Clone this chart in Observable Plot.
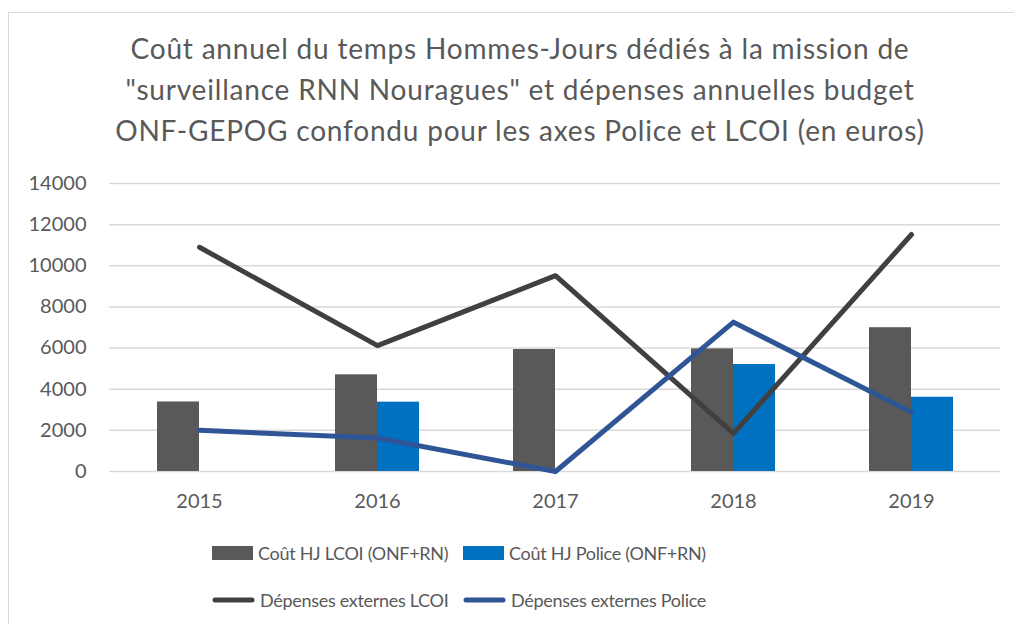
<!DOCTYPE html>
<html>
<head>
<meta charset="utf-8">
<script src="https://cdn.jsdelivr.net/npm/d3@7"></script>
<script src="https://cdn.jsdelivr.net/npm/@observablehq/plot@0.6"></script>
<style>
  html, body { margin: 0; padding: 0; background: #fff; }
  body { width: 1014px; height: 624px; position: relative; overflow: hidden; font-family: Lato, "Open Sans", sans-serif; color: #595959; }
  #frame { position: absolute; left: 8px; top: 12px; width: 1040px; height: 640px; border: 1.5px solid #d9d9d9; box-sizing: border-box; }
  #title { position: absolute; left: 0; top: 28px; width: 1040px; text-align: center; font-size: 28px; letter-spacing: 0.8px; line-height: 41px; color: #595959; }
  #chart { position: absolute; left: 0; top: 170px; }
  .leg { position: absolute; font-size: 18px; letter-spacing: -0.3px; color: #595959; display: flex; align-items: center; white-space: nowrap; }
  .leg svg { margin-right: 5px; }
</style>
</head>
<body>
<div id="frame"></div>
<div id="title">Coût annuel du temps Hommes-Jours dédiés à la mission de<br>"surveillance RNN Nouragues" et dépenses annuelles budget<br>ONF-GEPOG confondu pour les axes Police et LCOI (en euros)</div>
<div id="chart"></div>
<div id="legend"></div>
<script>
const years = ["2015", "2016", "2017", "2018", "2019"];
const coutLCOI = [3380, 4700, 5930, 5960, 6990];
const coutPolice = [null, 3370, null, 5200, 3610];
const depLCOI = [10900, 6120, 9520, 1850, 11520];
const depPolice = [2000, 1630, 0, 7260, 2880];
const yTicks = [0, 2000, 4000, 6000, 8000, 10000, 12000, 14000];

const seriesNames = ["Coût HJ LCOI (ONF+RN)", "Coût HJ Police (ONF+RN)", "Dépenses externes LCOI", "Dépenses externes Police"];
const colors = ["#595959", "#0070C0", "#404040", "#2F5597"];

const barsL = years.map((y, i) => ({year: y, value: coutLCOI[i]}));
const barsP = years.map((y, i) => ({year: y, value: coutPolice[i]})).filter(d => d.value != null);
const lineL = years.map((y, i) => ({year: y, value: depLCOI[i]}));
const lineP = years.map((y, i) => ({year: y, value: depPolice[i]}));

const chart = Plot.plot({
  width: 1014,
  height: 350,
  marginLeft: 109,
  marginRight: 14,
  marginTop: 13,
  marginBottom: 49,
  style: {fontFamily: "Lato, 'Open Sans', sans-serif", fontSize: "20px", color: "#595959", background: "transparent"},
  x: {domain: years, padding: 0, label: null, tickSize: 0, tickPadding: 22},
  y: {domain: [0, 14000], ticks: yTicks, label: null, tickSize: 0, tickPadding: 23, tickFormat: d => String(d)},
  marks: [
    Plot.gridY(yTicks, {stroke: "#d9d9d9", strokeOpacity: 1, strokeWidth: 1.5}),
    Plot.barY(barsL, {x: "year", y: "value", fill: colors[0], insetLeft: 47, insetRight: 89}),
    Plot.barY(barsP, {x: "year", y: "value", fill: colors[1], insetLeft: 89, insetRight: 47}),
    Plot.line(lineL, {x: "year", y: "value", stroke: colors[2], strokeWidth: 5, strokeLinecap: "round", strokeLinejoin: "round"}),
    Plot.line(lineP, {x: "year", y: "value", stroke: colors[3], strokeWidth: 5, strokeLinecap: "round", strokeLinejoin: "round"})
  ]
});
chart.querySelectorAll("[aria-label='x-axis tick label'] text, [aria-label='y-axis tick label'] text").forEach(t => t.setAttribute("fill", "#595959"));
document.getElementById("chart").appendChild(chart);

// Legend
const legPos = [[212, 553, "rect"], [463, 553, "rect"], [212, 600, "line"], [463, 600, "line"]];
const legend = document.getElementById("legend");
seriesNames.forEach((name, i) => {
  const [lx, ly, kind] = legPos[i];
  const div = document.createElement("div");
  div.className = "leg";
  div.style.left = lx + "px";
  div.style.top = (ly - 13) + "px";
  div.style.height = "26px";
  const sw = kind === "rect"
    ? `<svg width="41" height="14"><rect x="0" y="0" width="41" height="14" fill="${colors[i]}"/></svg>`
    : `<svg width="43" height="8"><line x1="3" y1="4" x2="40" y2="4" stroke="${colors[i]}" stroke-width="5" stroke-linecap="round"/></svg>`;
  div.innerHTML = sw + `<span>${name}</span>`;
  legend.appendChild(div);
});
</script>
</body>
</html>
